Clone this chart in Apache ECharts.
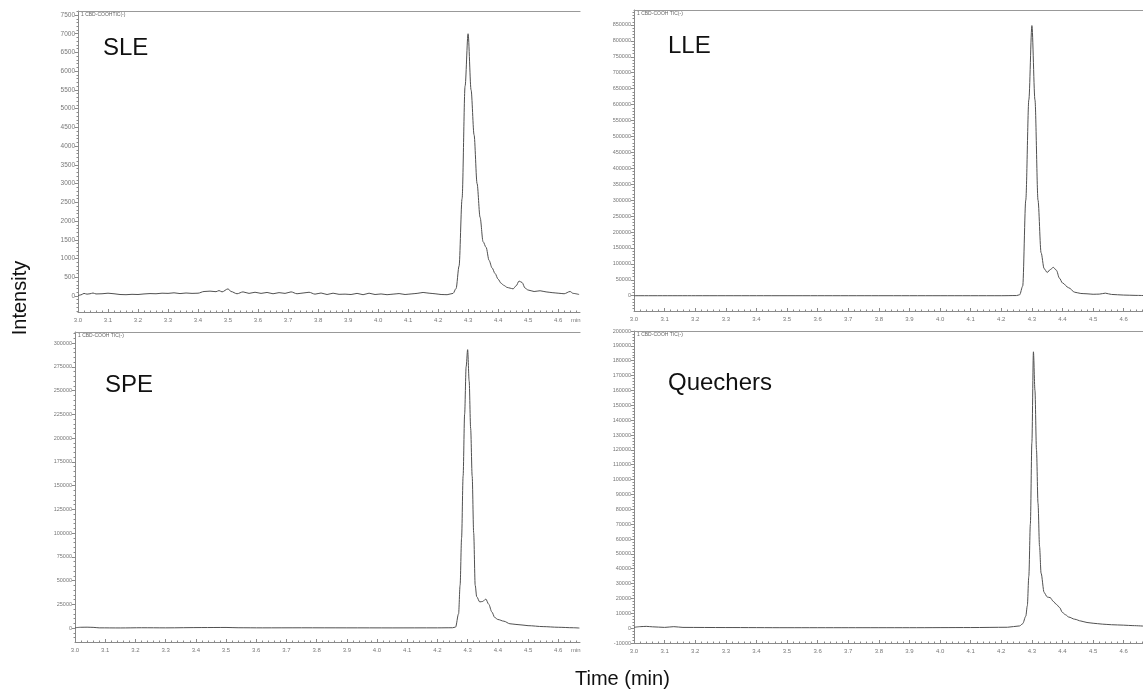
<!DOCTYPE html>
<html>
<head>
<meta charset="utf-8">
<script src="https://cdn.jsdelivr.net/npm/echarts@6/dist/echarts.min.js"></script>
<style>
  html, body { margin: 0; padding: 0; background: #fff; }
  #main { width: 1143px; height: 693px; }
</style>
</head>
<body>
<div id="main"></div>
<script>
// [time (min), intensity]
const sleTrace = [
  [3.00, 10], [3.01, 30], [3.02, 70], [3.03, 50], [3.04, 60], [3.05, 80], [3.06, 55], [3.08, 60],
  [3.10, 75], [3.12, 60], [3.14, 40], [3.16, 35], [3.18, 45], [3.20, 40], [3.22, 55], [3.24, 65],
  [3.26, 60], [3.28, 75], [3.30, 70], [3.32, 85], [3.34, 65], [3.36, 80], [3.38, 70], [3.40, 75],
  [3.42, 120], [3.44, 130], [3.46, 115], [3.47, 145], [3.48, 110], [3.50, 190], [3.51, 120],
  [3.53, 60], [3.55, 110], [3.57, 70], [3.59, 100], [3.61, 70], [3.63, 95], [3.65, 60], [3.67, 90],
  [3.69, 70], [3.71, 110], [3.73, 60], [3.75, 80], [3.77, 100], [3.79, 50], [3.81, 80], [3.83, 40],
  [3.85, 75], [3.87, 45], [3.89, 50], [3.91, 40], [3.93, 70], [3.95, 35], [3.97, 75], [3.99, 40],
  [4.01, 55], [4.03, 35], [4.05, 50], [4.07, 65], [4.09, 40], [4.11, 55], [4.13, 70], [4.15, 95],
  [4.17, 75], [4.19, 60], [4.21, 40], [4.23, 35], [4.25, 70], [4.26, 200], [4.27, 800], [4.28, 2600],
  [4.29, 5600], [4.30, 7000], [4.31, 5500], [4.32, 4300], [4.33, 3000], [4.34, 2100], [4.35, 1450],
  [4.36, 1300], [4.37, 950], [4.38, 750], [4.39, 600], [4.40, 450], [4.41, 340], [4.42, 280],
  [4.43, 230], [4.44, 210], [4.45, 190], [4.46, 270], [4.47, 400], [4.48, 360], [4.49, 210],
  [4.50, 160], [4.52, 120], [4.54, 140], [4.56, 110], [4.58, 90], [4.60, 75], [4.62, 60],
  [4.64, 120], [4.65, 70], [4.67, 40]
];
const lleTrace = [
  [3.00, 0], [3.20, 0], [3.40, 0], [3.60, 0], [3.80, 0], [4.00, 0], [4.20, 0], [4.25, 500],
  [4.26, 3000], [4.27, 30000], [4.28, 300000], [4.29, 615000], [4.30, 848000], [4.31, 615000],
  [4.32, 300000], [4.33, 135000], [4.34, 85000], [4.35, 73000], [4.36, 82000], [4.37, 89000],
  [4.38, 80000], [4.39, 55000], [4.40, 40000], [4.42, 25000], [4.44, 11000], [4.46, 7000],
  [4.48, 6000], [4.50, 4500], [4.52, 5000], [4.54, 8000], [4.56, 4000], [4.60, 2000],
  [4.64, 1000], [4.67, 500]
];
const speTrace = [
  [3.00, 300], [3.02, 800], [3.04, 900], [3.06, 700], [3.08, 200], [3.15, 100], [3.22, 300],
  [3.30, 200], [3.42, 500], [3.50, 600], [3.54, 300], [3.62, 200], [3.75, 250], [3.90, 200],
  [4.05, 150], [4.20, 200], [4.25, 300], [4.26, 1000], [4.27, 15000], [4.275, 45000],
  [4.28, 95000], [4.285, 160000], [4.29, 225000], [4.295, 275000], [4.30, 293000],
  [4.305, 260000], [4.31, 210000], [4.315, 160000], [4.32, 100000], [4.325, 45000],
  [4.33, 33000], [4.34, 27500], [4.35, 28000], [4.36, 30500], [4.37, 25000], [4.38, 17000],
  [4.39, 11000], [4.40, 9000], [4.42, 7200], [4.44, 4500], [4.46, 3800], [4.48, 3200],
  [4.50, 2500], [4.55, 1500], [4.60, 800], [4.65, 300], [4.67, 0]
];
const quechersTrace = [
  [3.00, 500], [3.02, 1000], [3.04, 1200], [3.06, 900], [3.10, 500], [3.13, 1000], [3.16, 500],
  [3.30, 400], [3.50, 300], [3.70, 300], [3.90, 300], [4.10, 400], [4.22, 600], [4.26, 1500],
  [4.27, 3000], [4.28, 8000], [4.285, 15000], [4.29, 35000], [4.295, 70000], [4.30, 125000],
  [4.305, 186000], [4.31, 160000], [4.315, 120000], [4.32, 84000], [4.325, 55000],
  [4.33, 37000], [4.34, 24000], [4.35, 21000], [4.36, 20500], [4.37, 18000], [4.38, 16000],
  [4.39, 14000], [4.40, 10500], [4.41, 9000], [4.42, 7500], [4.44, 6000], [4.46, 4800],
  [4.48, 3800], [4.50, 3300], [4.53, 2700], [4.56, 2300], [4.60, 2000], [4.63, 1700],
  [4.67, 1300]
];

// tick labels
const timeTicks = [3.0, 3.1, 3.2, 3.3, 3.4, 3.5, 3.6, 3.7, 3.8, 3.9, 4.0, 4.1, 4.2, 4.3, 4.4, 4.5, 4.6];
const sleTicks = [0, 500, 1000, 1500, 2000, 2500, 3000, 3500, 4000, 4500, 5000, 5500, 6000, 6500, 7000, 7500];
const lleTicks = [0, 50000, 100000, 150000, 200000, 250000, 300000, 350000, 400000, 450000,
  500000, 550000, 600000, 650000, 700000, 750000, 800000, 850000];
const speTicks = [0, 25000, 50000, 75000, 100000, 125000, 150000, 175000, 200000, 225000,
  250000, 275000, 300000];
const quechersTicks = [-10000, 0, 10000, 20000, 30000, 40000, 50000, 60000, 70000, 80000, 90000,
  100000, 110000, 120000, 130000, 140000, 150000, 160000, 170000, 180000, 190000, 200000];

const panels = [
  { label: 'SLE', header: '1 CBD-COOHTIC(-)', trace: sleTrace, ticks: sleTicks, minorStep: 100,
    grid: { left: 78, top: 11, width: 502, height: 301 }, xMax: 4.673, yMin: -427, yMax: 7607,
    labelPos: [103, 49], labelSize: 6.5, showMin: true },
  { label: 'LLE', header: '1 CBD-COOH TIC(-)', trace: lleTrace, ticks: lleTicks, minorStep: 10000,
    grid: { left: 634, top: 10, width: 509, height: 301 }, xMax: 4.663, yMin: -48000, yMax: 897000,
    labelPos: [668, 47.5], labelSize: 5.5, showMin: false },
  { label: 'SPE', header: '1 CBD-COOH TIC(-)', trace: speTrace, ticks: speTicks, minorStep: 5000,
    grid: { left: 75, top: 332, width: 505, height: 310 }, xMax: 4.672, yMin: -14700, yMax: 311600,
    labelPos: [105, 386], labelSize: 5.5, showMin: true },
  { label: 'Quechers', header: '1 CBD-COOH TIC(-)', trace: quechersTrace, ticks: quechersTicks, minorStep: 2000,
    grid: { left: 634, top: 331, width: 509, height: 312 }, xMax: 4.663, yMin: -10000, yMax: 200000,
    labelPos: [668, 384.5], labelSize: 5.5, showMin: false }
];

function stepValues(from, to, step) {
  const out = [];
  for (let v = from; v <= to + step / 10; v += step) out.push(+v.toFixed(4));
  return out;
}

const axisGray = '#8a8a8a';
const labelGray = '#777';
const grids = [], xAxes = [], yAxes = [], series = [], graphics = [];

panels.forEach((p, i) => {
  grids.push(Object.assign({ containLabel: false }, p.grid));
  const minorX = stepValues(3.0, p.xMax, 0.02);
  const minorY = stepValues(Math.ceil(p.yMin / p.minorStep) * p.minorStep, p.yMax, p.minorStep);
  // main bottom time axis
  xAxes.push({
    type: 'value', gridIndex: i, position: 'bottom', min: 3.0, max: p.xMax,
    axisLine: { show: true, onZero: false, lineStyle: { color: axisGray, width: 1 } },
    axisTick: { show: true, inside: true, length: 3, customValues: timeTicks, lineStyle: { color: axisGray } },
    axisLabel: { show: true, customValues: timeTicks, margin: 5, fontSize: 6, color: labelGray,
      fontFamily: 'Liberation Sans', formatter: v => v.toFixed(1) },
    splitLine: { show: false }
  });
  // minor time ticks
  xAxes.push({
    type: 'value', gridIndex: i, position: 'bottom', min: 3.0, max: p.xMax,
    axisLine: { show: false, onZero: false },
    axisTick: { show: true, inside: true, length: 1.5, customValues: minorX, lineStyle: { color: axisGray } },
    axisLabel: { show: false }, splitLine: { show: false }
  });
  // top frame line
  xAxes.push({
    type: 'value', gridIndex: i, position: 'top', min: 3.0, max: p.xMax,
    axisLine: { show: true, onZero: false, lineStyle: { color: '#999', width: 1.2 } },
    axisTick: { show: false }, axisLabel: { show: false }, splitLine: { show: false }
  });
  // intensity axis
  yAxes.push({
    type: 'value', gridIndex: i, position: 'left', min: p.yMin, max: p.yMax,
    axisLine: { show: true, onZero: false, lineStyle: { color: axisGray, width: 1 } },
    axisTick: { show: true, length: 3, customValues: p.ticks, lineStyle: { color: axisGray } },
    axisLabel: { show: true, customValues: p.ticks, margin: 3, fontSize: p.labelSize, color: labelGray,
      fontFamily: 'Liberation Sans', formatter: v => String(v) },
    splitLine: { show: false }
  });
  yAxes.push({
    type: 'value', gridIndex: i, position: 'left', min: p.yMin, max: p.yMax,
    axisLine: { show: false, onZero: false },
    axisTick: { show: true, length: 1.5, customValues: minorY, lineStyle: { color: axisGray } },
    axisLabel: { show: false }, splitLine: { show: false }
  });
  series.push({
    name: p.label, type: 'line', xAxisIndex: i * 3, yAxisIndex: i * 2,
    data: p.trace, showSymbol: false, smooth: 0.3, smoothMonotone: 'x',
    lineStyle: { color: '#505050', width: 1 }, silent: true
  });
  graphics.push({
    type: 'text', left: p.labelPos[0], top: p.labelPos[1] - 13,
    style: { text: p.label, font: '24px "Liberation Sans", Arial, sans-serif', fill: '#111' }
  });
  graphics.push({
    type: 'text', left: p.grid.left + 3, top: p.grid.top + 1,
    style: { text: p.header, font: '5px "Liberation Sans", Arial, sans-serif', fill: '#666' }
  });
  if (p.showMin) {
    graphics.push({
      type: 'text', left: p.grid.left + p.grid.width - 9, top: p.grid.top + p.grid.height + 5,
      style: { text: 'min', font: '6px "Liberation Sans", Arial, sans-serif', fill: labelGray }
    });
  }
});

graphics.push({
  type: 'text', left: 575, top: 669,
  style: { text: 'Time (min)', font: '20px "Liberation Sans", Arial, sans-serif', fill: '#111' }
});
graphics.push({
  type: 'text', x: 20, y: 298, rotation: Math.PI / 2,
  style: { text: 'Intensity', font: '20px "Liberation Sans", Arial, sans-serif', fill: '#111',
    align: 'center', verticalAlign: 'middle' }
});

const chart = echarts.init(document.getElementById('main'));
chart.setOption({
  animation: false,
  backgroundColor: '#fff',
  grid: grids,
  xAxis: xAxes,
  yAxis: yAxes,
  series: series,
  graphic: graphics
});
</script>
</body>
</html>
